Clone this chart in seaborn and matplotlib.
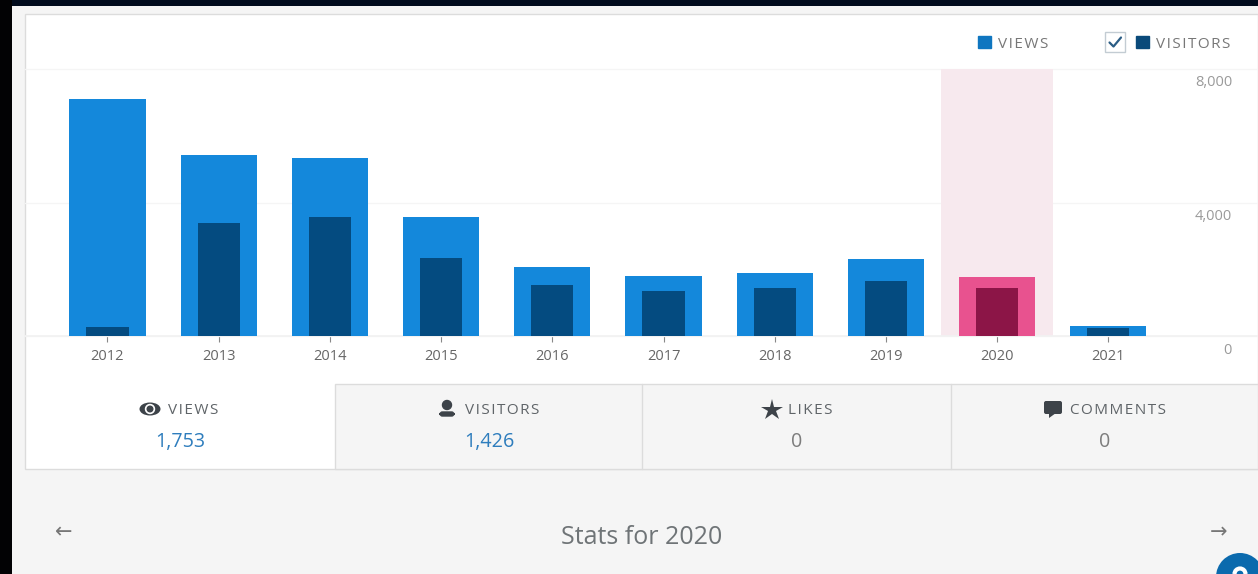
import matplotlib
matplotlib.use('Agg')
import matplotlib.pyplot as plt
import matplotlib.transforms as mtrans
from matplotlib.patches import Arc, Rectangle, Circle, Ellipse, FancyBboxPatch, Polygon, Patch
import pandas as pd
import seaborn as sns

years = ['2012', '2013', '2014', '2015', '2016', '2017', '2018', '2019', '2020', '2021']
views = [7100, 5423, 5333, 3565, 2067, 1798, 1888, 2307, 1753, 290]
visitors = [270, 3386, 3565, 2337, 1528, 1348, 1438, 1648, 1426, 225]
selected = '2020'
y_ticks = [0, 4000, 8000]

BLUE, NAVY = '#1488db', '#044b80'
PINK, WINE = '#e8528f', '#8c1547'
PAGE = '#f5f5f5'
BORDER = '#dcdcdc'

sns.set_theme(style='white')
plt.rcParams['font.family'] = ['Open Sans', 'DejaVu Sans']

df = pd.DataFrame({'year': years, 'views': views, 'visitors': visitors})
W, H = 1258, 574
fig = plt.figure(figsize=(W / 100, H / 100), dpi=100, facecolor=PAGE)


def spaced(s):
    return '\u200a'.join(s)


# page furniture in pixel coords
bg = fig.add_axes([0, 0, 1, 1], zorder=0)
bg.set_xlim(0, W)
bg.set_ylim(H, 0)
bg.axis('off')
bg.add_patch(Rectangle((0, 0), W, 6, color='#010b1d', lw=0))
bg.add_patch(Rectangle((0, 0), 12, H, color='#020204', lw=0))
bg.add_patch(Rectangle((25, 14), W - 25, 455, fc='white', ec=BORDER, lw=1))
bg.add_patch(Rectangle((335, 384), W - 335, 85, fc=PAGE, ec=BORDER, lw=1))
for x in [642, 951]:
    bg.plot([x, x], [384, 469], color=BORDER, lw=1)

# chart
ax = fig.add_axes([25 / W, 1 - 384 / H, (W - 25) / W, 370 / H], zorder=1)
ax.patch.set_alpha(0)
view_colors = {y: (PINK if y == selected else BLUE) for y in years}
visitor_colors = {y: (WINE if y == selected else NAVY) for y in years}
sns.barplot(data=df, x='year', y='views', hue='year', palette=view_colors,
            width=0.685, legend=False, saturation=1, linewidth=0, zorder=3, ax=ax)
sns.barplot(data=df, x='year', y='visitors', hue='year', palette=visitor_colors,
            width=0.38, legend=False, saturation=1, linewidth=0, zorder=4, ax=ax)
ax.add_patch(Rectangle((years.index(selected) - 0.5, 0), 1, max(y_ticks), color='#f7e9ee', lw=0, zorder=2))

ax.set_xlim((25 - 107.5) / 111.2, (W - 107.5) / 111.2)
k = 8000 / 267
ax.set_ylim((336 - 384) * k, (336 - 14) * k)
ax.set_xlabel('')
ax.set_ylabel('')
for side in ['top', 'left', 'right']:
    ax.spines[side].set_visible(False)
ax.spines['bottom'].set_position(('data', 0))
ax.spines['bottom'].set_color('#f2f2f2')
ax.tick_params(axis='x', length=4, width=0.8, color='#888888', pad=5.5,
               labelsize=10.5, labelcolor='#666666', bottom=True)

ax.set_yticks(y_ticks)
ax.set_yticklabels([f'{t:,}' for t in y_ticks])
ax.yaxis.tick_right()
ax.tick_params(axis='y', length=0, pad=-26 * 0.72, labelsize=10.5, labelcolor='#9a9a9a')
ax.grid(axis='y', color='#f5f5f5', lw=1)
ax.set_axisbelow(True)
shift = mtrans.ScaledTranslation(0, -12 / 100, fig.dpi_scale_trans)
for lab in ax.get_yticklabels():
    lab.set_ha('right')
    lab.set_transform(lab.get_transform() + shift)

handles = [Patch(color='#0f76c0', label=spaced('VIEWS')), Patch(color='#0a4a7a', label=spaced('VISITORS'))]
leg = ax.legend(handles=handles, ncol=2, frameon=False, fontsize=11, labelcolor='#777777',
                handlelength=0.85, handleheight=0.85, handletextpad=0.45, columnspacing=5.7,
                loc='center right', bbox_to_anchor=(1 - 28 / (W - 25), 1 - 30 / 370), borderpad=0, borderaxespad=0)

# overlay for tabs, icons and the pager
fg = fig.add_axes([0, 0, 1, 1], zorder=2)
fg.set_xlim(0, W)
fg.set_ylim(H, 0)
fg.axis('off')
fg.patch.set_alpha(0)

# checkbox
fg.add_patch(Rectangle((1105, 32), 20, 20, fc='white', ec='#c3ccd3', lw=1))
fg.plot([1109.5, 1113.5, 1121], [42.5, 46.5, 37.5], color='#2b5d85', lw=1.6)

tabs = [(180, spaced('VIEWS'), '1,753', '#2e7dbd'),
        (489, spaced('VISITORS'), '1,426', '#2e7dbd'),
        (797, spaced('LIKES'), '0', '#7d7d7d'),
        (1105, spaced('COMMENTS'), '0', '#7d7d7d')]
for x, lab, val, col in tabs:
    fg.text(x + 13, 411, lab, ha='center', va='center', fontsize=11, color='#5f6468')
    fg.text(x, 442, val, ha='center', va='center', fontsize=14.2, color=col)

DARK = '#3d4349'
# eye
fg.add_patch(Ellipse((150, 409), 21, 13, fc=DARK, ec=DARK, lw=0))
fg.add_patch(Circle((150, 409), 4.5, color='white'))
fg.add_patch(Circle((150, 409), 2.8, color=DARK))
# person
fg.add_patch(Circle((447, 405), 4.5, color=DARK))
fg.add_patch(FancyBboxPatch((440, 412), 14, 4, boxstyle='round,pad=0,rounding_size=2.5', fc=DARK, ec=DARK, lw=1))
# star
fg.plot([772], [409.5], marker='*', ms=16, color=DARK, mew=0)
# comment
fg.add_patch(FancyBboxPatch((1044, 401), 18, 13, boxstyle='round,pad=0,rounding_size=2', fc=DARK, ec=DARK, lw=0))
fg.add_patch(Polygon([(1049, 413), (1056, 413), (1049, 418)], color=DARK, lw=0))

fg.text(642, 537, 'Stats for 2020', ha='center', va='center', fontsize=18, color='#6f7477')
fg.text(64, 532, '←', ha='center', va='center', fontsize=15, color='#777777', family='DejaVu Sans')
fg.text(1219, 532, '→', ha='center', va='center', fontsize=15, color='#777777', family='DejaVu Sans')

# help bubble clipped by the page edge, only the top of its glyph shows
fg.add_patch(Circle((1240, 577), 24, color='#0b6aad', lw=0))
fg.add_patch(Arc((1240, 574), 11, 11, theta1=180, theta2=360, color='white', lw=3))

fig.savefig('out.png', dpi=100, facecolor=fig.get_facecolor())
